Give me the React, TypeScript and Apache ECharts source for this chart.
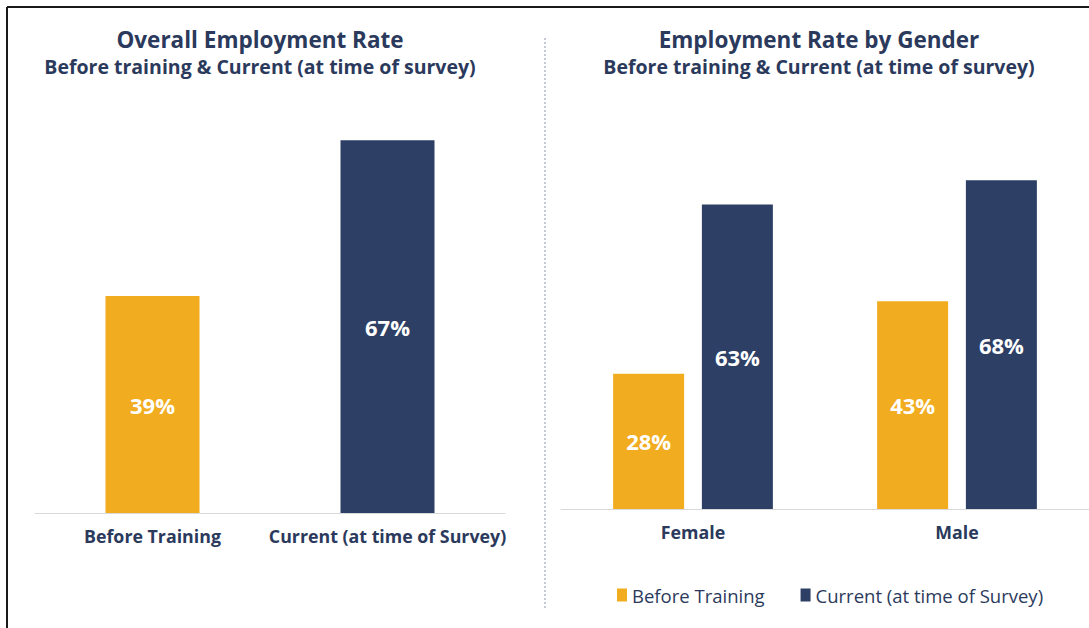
import React, { useEffect, useRef } from "react";
import * as echarts from "echarts";

const overallCategories = ["Before Training", "Current (at time of Survey)"];
const overallValues = [39, 67];
const genderCategories = ["Female", "Male"];
const beforeTraining = [28, 43];
const currentSurvey = [63, 68];
const seriesNames = ["Before Training", "Current (at time of Survey)"];

const ORANGE = "#F2AC1F";
const NAVY = "#2E3F66";
const TEXT = "#2B3A5C";
const FONT = "'Open Sans', Lato, sans-serif";

export default function App() {
  const ref = useRef<HTMLDivElement>(null);
  useEffect(() => {
    if (!ref.current) return;
    const chart = echarts.init(ref.current, undefined, { renderer: "svg" });
    const label = {
      show: true,
      position: "inside",
      color: "#ffffff",
      fontWeight: "bold",
      fontSize: 22,
      fontFamily: FONT,
      formatter: (p: any) => p.value + "%",
    };
    const titleStyle = { fontFamily: FONT, fontSize: 22.5, fontWeight: "bold", color: TEXT, lineHeight: 26 };
    const subStyle = { fontFamily: FONT, fontSize: 19.5, fontWeight: "bold", color: TEXT, lineHeight: 22 };
    const axisLabel = {
      interval: 0,
      margin: 14,
      fontFamily: FONT,
      fontSize: 17.8,
      fontWeight: "bold",
      color: TEXT,
    };
    chart.setOption({
      animation: false,
      backgroundColor: "#ffffff",
      title: [
        { text: "Overall Employment Rate", left: 255, top: 21, textAlign: "center", textStyle: titleStyle },
        { text: "Before training & Current (at time of survey)", left: 255, top: 50, textAlign: "center", textStyle: subStyle },
        { text: "Employment Rate by Gender", left: 814, top: 21, textAlign: "center", textStyle: titleStyle },
        { text: "Before training & Current (at time of survey)", left: 814, top: 50, textAlign: "center", textStyle: subStyle },
      ],
      legend: {
        data: seriesNames,
        left: 612,
        top: 580,
        itemWidth: 10,
        itemHeight: 13,
        itemGap: 36,
        icon: "rect",
        textStyle: { fontFamily: FONT, fontSize: 18.5, color: TEXT, lineHeight: 20 },
      },
      grid: [
        { left: 35, top: 68, width: 470, height: 445 },
        { left: 561, top: 74, width: 534, height: 435 },
      ],
      xAxis: [
        {
          type: "category",
          gridIndex: 0,
          data: overallCategories,
          axisTick: { show: false },
          axisLine: { lineStyle: { color: "#D9D9D9", width: 1 } },
          axisLabel,
        },
        {
          type: "category",
          gridIndex: 1,
          data: genderCategories,
          axisTick: { show: false },
          axisLine: { lineStyle: { color: "#D9D9D9", width: 1 } },
          axisLabel,
        },
      ],
      yAxis: [
        { type: "value", gridIndex: 0, min: 0, max: 80, show: false, splitLine: { show: false } },
        { type: "value", gridIndex: 1, min: 0, max: 90, show: false, splitLine: { show: false } },
      ],
      series: [
        {
          name: "Overall",
          type: "bar",
          xAxisIndex: 0,
          yAxisIndex: 0,
          barWidth: 94,
          data: overallValues.map((v, i) => ({
            value: v,
            itemStyle: { color: i === 0 ? ORANGE : NAVY },
          })),
          label,
        },
        {
          name: seriesNames[0],
          type: "bar",
          xAxisIndex: 1,
          yAxisIndex: 1,
          barWidth: 71,
          barGap: "25%",
          itemStyle: { color: ORANGE },
          data: beforeTraining,
          label,
        },
        {
          name: seriesNames[1],
          type: "bar",
          xAxisIndex: 1,
          yAxisIndex: 1,
          barWidth: 71,
          barGap: "25%",
          itemStyle: { color: NAVY },
          data: currentSurvey,
          label,
        },
      ],
      graphic: [
        {
          type: "line",
          shape: { x1: 7, y1: 7, x2: 1089, y2: 7 },
          style: { stroke: "#1a1a1a", lineWidth: 2 },
        },
        {
          type: "line",
          shape: { x1: 7, y1: 7, x2: 7, y2: 628 },
          style: { stroke: "#1a1a1a", lineWidth: 2 },
        },
        {
          type: "line",
          shape: { x1: 545, y1: 38, x2: 545, y2: 608 },
          style: { stroke: "#8A94AD", lineWidth: 1, lineDash: [2, 2] },
        },
      ],
    });
    return () => chart.dispose();
  }, []);
  return (
    <div
      ref={ref}
      style={{ position: "fixed", left: 0, top: 0, width: 1089, height: 628 }}
    />
  );
}
